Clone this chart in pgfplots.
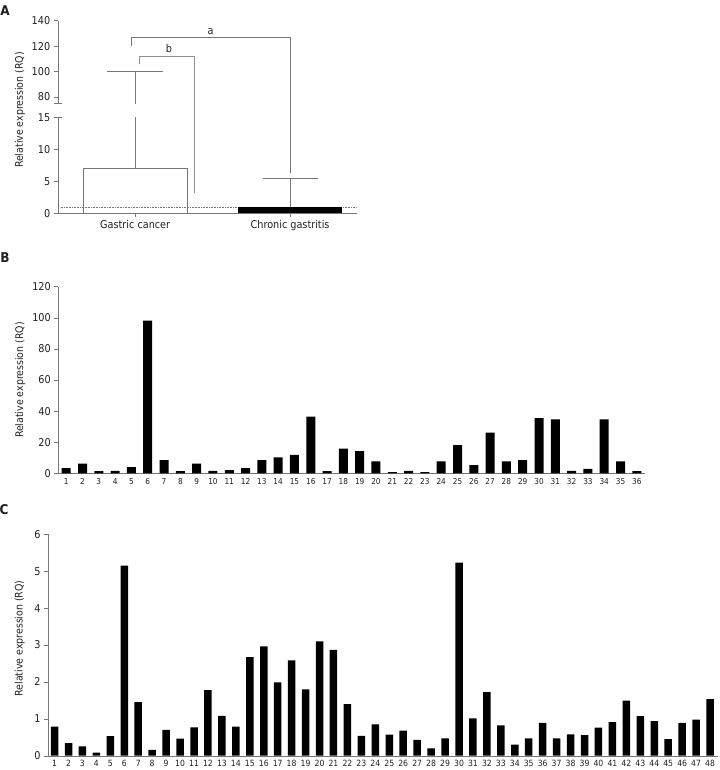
\documentclass[border=0pt]{standalone}
\usepackage{pgfplots}
\pgfplotsset{compat=1.18}
\usepackage{fontspec}
\setmainfont{DejaVu Sans Condensed}
\definecolor{axc}{RGB}{118,118,118}
\definecolor{txc}{RGB}{35,31,32}
\pgfplotsset{
  base/.style={
    scale only axis,
    /pgf/number format/assume math mode=true,
    axis line style={axc,-},
    every tick/.style={axc},
    tick align=outside,
    major tick length=4bp,
    tick label style={font=\fontsize{10.8}{12}\selectfont, text=txc},
    label style={font=\fontsize{10.5}{12}\selectfont, text=txc},
    clip=true,
  }
}
\begin{document}
\begin{tikzpicture}
\useasboundingbox (0bp,0bp) rectangle (720bp,770bp);
\node[font=\bfseries\fontsize{13.5}{14}\selectfont, text=txc] at (5bp,759bp) {A};
\node[font=\bfseries\fontsize{13.5}{14}\selectfont, text=txc] at (5bp,512bp) {B};
\node[font=\bfseries\fontsize{13.5}{14}\selectfont, text=txc] at (4bp,260bp) {C};

% ---------- Panel A upper part ----------
\begin{axis}[base,
  at={(57.7bp,666.7bp)}, anchor=south west,
  width=299bp, height=82.6bp,
  xmin=0.5, xmax=2.43, ymin=75, ymax=140,
  axis x line=none, axis y line*=left,
  ytick={80,100,120,140},
  extra y ticks={75}, extra y tick labels={},
  extra y tick style={tick align=center, major tick length=8bp},
]
\addplot[axc, line width=0.6pt] coordinates {(1,7) (1,100)};
\addplot[axc, line width=0.6pt] coordinates {(0.82,100) (1.18,100)};
\coordinate (aL) at (axis cs:0.977,120);
\coordinate (aT) at (axis cs:0.977,126.6);
\coordinate (aR) at (axis cs:2.0,126.6);
\coordinate (bL) at (axis cs:1.026,106);
\coordinate (bT) at (axis cs:1.026,112);
\coordinate (bR) at (axis cs:1.381,112);
\node[font=\fontsize{10.8}{12}\selectfont, text=txc] at (axis cs:1.487,131.3) {a};
\node[font=\fontsize{10.8}{12}\selectfont, text=txc] at (axis cs:1.218,118.2) {b};
\end{axis}

% ---------- Panel A lower part ----------
\begin{axis}[base,
  at={(57.7bp,556.7bp)}, anchor=south west,
  width=299bp, height=96bp,
  xmin=0.5, xmax=2.43, ymin=0, ymax=15,
  axis x line*=bottom, axis y line*=left,
  ytick={0,5,10,15},
  extra y ticks={15}, extra y tick labels={},
  extra y tick style={tick align=center, major tick length=8bp},
  xtick={1,2}, xticklabels={Gastric cancer, Chronic gastritis},
  ylabel={Relative expression (RQ)},
  ylabel style={at={(axis description cs:-0.126,1.076)}, anchor=center, rotate=0},
]
\addplot[ybar, bar shift=0pt, bar width=104.7bp, fill=white, draw=axc, line width=0.6pt] coordinates {(1,7)};
\addplot[axc, line width=0.6pt] coordinates {(1,7) (1,100)};
\addplot[axc, densely dotted, line width=0.6pt] coordinates {(0.52,1) (2.43,1)};
\addplot[ybar, bar shift=0pt, bar width=104.7bp, fill=black, draw=none] coordinates {(2,1)};
\addplot[axc, line width=0.6pt] coordinates {(2,1) (2,5.4)};
\addplot[axc, line width=0.6pt] coordinates {(1.823,5.4) (2.177,5.4)};
\coordinate (aB) at (axis cs:2.0,6.25);
\coordinate (bB) at (axis cs:1.381,3.2);
\end{axis}
\draw[axc, line width=0.6pt] (aL) -- (aT) -- (aR) -- (aB);
\draw[axc!80, line width=0.6pt] (bL) -- (bT) -- (bR) -- (bB);

% ---------- Panel B ----------
\begin{axis}[base,
  at={(58.3bp,296.7bp)}, anchor=south west,
  width=586.7bp, height=186.6bp,
  xmin=0.515, xmax=36.5, ymin=0, ymax=120,
  axis x line*=bottom, axis y line*=left,
  ytick={0,20,40,60,80,100,120},
  xtick={1,...,36},
  x tick style={draw=none},
  x tick label style={font=\fontsize{8.2}{9}\selectfont, text=txc, yshift=2bp},
  ylabel={Relative expression (RQ)},
  ylabel style={at={(axis description cs:-0.065,0.5)}, anchor=center},
]
\addplot[ybar, bar shift=0pt, bar width=9bp, fill=black, draw=none] coordinates {
(1,3.4) (2,6.2) (3,1.4) (4,1.6) (5,3.9) (6,98.1) (7,8.4) (8,1.4) (9,6.2)
(10,1.6) (11,2.1) (12,3.4) (13,8.4) (14,10.2) (15,11.9) (16,36.4) (17,1.4)
(18,15.9) (19,14.3) (20,7.6) (21,0.8) (22,1.6) (23,0.8) (24,7.6) (25,18.1)
(26,5.2) (27,26.1) (28,7.6) (29,8.4) (30,35.4) (31,34.7) (32,1.6) (33,2.9)
(34,34.7) (35,7.6) (36,1.4)};
\node[font=\fontsize{10.5}{12}\selectfont, text=txc] at (axis description cs:0.519,1.1) {Gastric cancer};
\end{axis}

% ---------- Panel C ----------
\begin{axis}[base,
  at={(48bp,14.3bp)}, anchor=south west,
  width=670bp, height=221.4bp,
  xmin=0.53, xmax=48.57, ymin=0, ymax=6,
  axis x line*=bottom, axis y line*=left,
  ytick={0,1,2,3,4,5,6},
  xtick={1,...,48},
  x tick style={draw=none},
  x tick label style={font=\fontsize{8.6}{9}\selectfont, text=txc, yshift=3bp},
  ylabel={Relative expression (RQ)},
  ylabel style={at={(axis description cs:-0.042,0.53)}, anchor=center},
]
\addplot[ybar, bar shift=0pt, bar width=7.5bp, fill=black, draw=none] coordinates {
(1,0.79) (2,0.34) (3,0.25) (4,0.08) (5,0.53) (6,5.15) (7,1.45) (8,0.16)
(9,0.70) (10,0.46) (11,0.77) (12,1.78) (13,1.08) (14,0.79) (15,2.67) (16,2.96)
(17,1.99) (18,2.58) (19,1.80) (20,3.10) (21,2.87) (22,1.40) (23,0.54) (24,0.85)
(25,0.57) (26,0.68) (27,0.43) (28,0.20) (29,0.47) (30,5.23) (31,1.01) (32,1.72)
(33,0.82) (34,0.30) (35,0.47) (36,0.89) (37,0.47) (38,0.58) (39,0.56) (40,0.76)
(41,0.91) (42,1.49) (43,1.07) (44,0.94) (45,0.45) (46,0.89) (47,0.98) (48,1.53)};
\node[font=\fontsize{10.5}{12}\selectfont, text=txc] at (axis description cs:0.466,1.056) {Chronic gastritis};
\end{axis}
\end{tikzpicture}
\end{document}
